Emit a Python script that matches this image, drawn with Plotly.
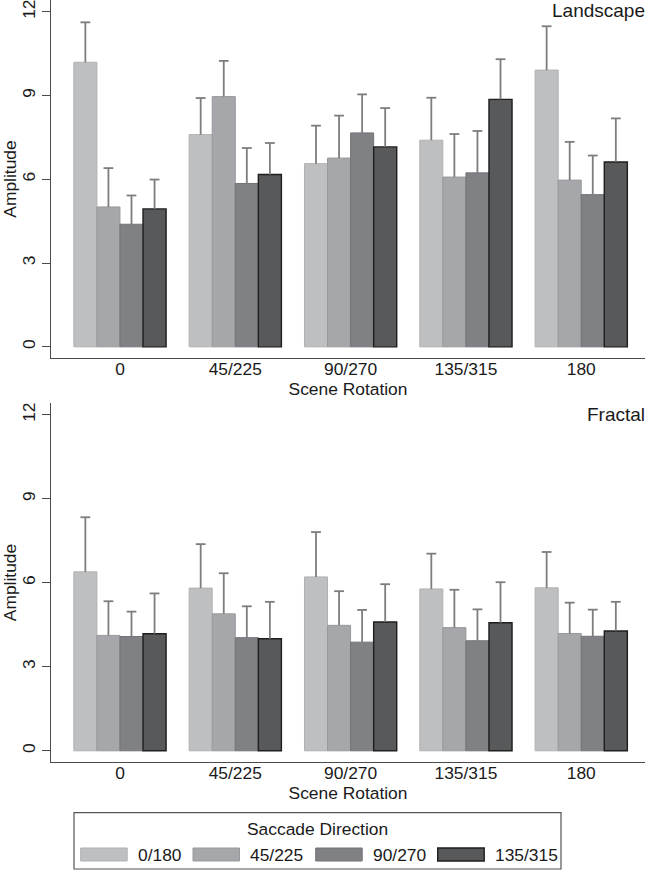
import plotly.graph_objects as go

# ---------------- data ----------------
rotations = ["0", "45/225", "90/270", "135/315", "180"]
directions = ["0/180", "45/225", "90/270", "135/315"]

# Landscape: means and upper error-bar lengths
land_mean = {
    "0/180":   [10.19, 7.60, 6.56, 7.40, 9.91],
    "45/225":  [5.01, 8.96, 6.76, 6.08, 5.97],
    "90/270":  [4.39, 5.85, 7.66, 6.23, 5.45],
    "135/315": [4.94, 6.17, 7.16, 8.86, 6.62],
}
land_err = {
    "0/180":   [1.43, 1.31, 1.36, 1.52, 1.57],
    "45/225":  [1.39, 1.28, 1.52, 1.54, 1.37],
    "90/270":  [1.03, 1.27, 1.38, 1.50, 1.40],
    "135/315": [1.05, 1.13, 1.39, 1.44, 1.56],
}

# Fractal
frac_mean = {
    "0/180":   [6.39, 5.81, 6.21, 5.78, 5.82],
    "45/225":  [4.12, 4.89, 4.48, 4.40, 4.19],
    "90/270":  [4.08, 4.04, 3.88, 3.93, 4.09],
    "135/315": [4.18, 4.00, 4.60, 4.57, 4.28],
}
frac_err = {
    "0/180":   [1.95, 1.57, 1.60, 1.26, 1.28],
    "45/225":  [1.22, 1.45, 1.22, 1.35, 1.10],
    "90/270":  [0.89, 1.12, 1.15, 1.12, 0.95],
    "135/315": [1.44, 1.32, 1.35, 1.45, 1.04],
}

y_ticks = [0, 3, 6, 9, 12]

# ---------------- style ----------------
fills = ["#bebfc1", "#a6a7aa", "#808185", "#58595b"]
edges = ["#b0b1b3", "#98999c", "#727377", "#1e1e1e"]
edge_w = [1, 1, 1, 1.4]
ERR_C = "#7d7d7d"
FONT = "Liberation Sans, Arial, sans-serif"
FS = 17.4
FS_T = 19
TXT = "#1a1a1a"
AX = "#4a4a4a"

BAR_W = 0.2  # fraction of a category slot per bar (4 bars -> 0.8 group, 0.2 gap)

W, H = 650, 877
fig = go.Figure()

panels = [
    (land_mean, land_err, "x", "y"),
    (frac_mean, frac_err, "x2", "y2"),
]
n_dir = len(directions)
for means, errs, xa, ya in panels:
    for i, d in enumerate(directions):
        off = (i - (n_dir - 1) / 2) * BAR_W
        xs = [k + off for k in range(len(rotations))]
        fig.add_trace(go.Bar(
            x=xs, y=means[d], name=d, width=BAR_W,
            marker=dict(color=fills[i], line=dict(color=edges[i], width=edge_w[i])),
            error_y=dict(type="data", array=errs[d], arrayminus=[0] * len(rotations),
                         symmetric=False, color=ERR_C, thickness=1.8, width=0),
            xaxis=xa, yaxis=ya, showlegend=False,
        ))
        # caps only at the upper end of each error bar
        tops = [m + e for m, e in zip(means[d], errs[d])]
        fig.add_trace(go.Scatter(
            x=xs, y=tops, mode="markers", showlegend=False, hoverinfo="skip",
            marker=dict(symbol="line-ew", size=7, line=dict(color=ERR_C, width=1.8)),
            xaxis=xa, yaxis=ya,
        ))

def py(p):
    return 1 - p / H

xdom = [51 / W, 645 / W]
top_dom = [py(358), py(0)]
bot_dom = [py(762), py(403)]

xcommon = dict(
    domain=xdom, range=[-0.598, 4.553], showline=True, linecolor=AX, linewidth=1.2,
    tickvals=list(range(len(rotations))), ticktext=rotations,
    ticks="", showgrid=False, zeroline=False, ticklabelstandoff=-5,
    tickfont=dict(family=FONT, size=FS, color=TXT),
    title=dict(text="Scene Rotation", font=dict(family=FONT, size=FS, color=TXT), standoff=0),
    automargin=False, ticklabeloverflow="allow",
)
ycommon = dict(
    range=[-0.4, 12.42], tickvals=y_ticks, ticks="outside", ticklen=8, tickcolor=AX,
    tickwidth=1.2, showline=True, linecolor=AX, linewidth=1.2, showgrid=False,
    zeroline=False, tickangle=-90, ticklabeloverflow="allow",
    tickfont=dict(family=FONT, size=FS, color=TXT),
    title=dict(text="Amplitude", font=dict(family=FONT, size=FS, color=TXT), standoff=3),
    automargin=False,
)

fig.update_layout(
    width=W, height=H,
    margin=dict(l=0, r=0, t=0, b=0),
    paper_bgcolor="white", plot_bgcolor="white",
    barmode="overlay",
    xaxis=dict(**xcommon, anchor="y"),
    yaxis=dict(**ycommon, domain=top_dom, anchor="x"),
    xaxis2=dict(**xcommon, anchor="y2"),
    yaxis2=dict(**ycommon, domain=bot_dom, anchor="x2"),
    font=dict(family=FONT, color=TXT),
)

# panel titles
fig.add_annotation(text="Landscape", xref="paper", yref="paper", x=647 / W, y=py(11),
                   xanchor="right", yanchor="middle", showarrow=False,
                   font=dict(family=FONT, size=FS_T, color=TXT))
fig.add_annotation(text="Fractal", xref="paper", yref="paper", x=647 / W, y=py(414),
                   xanchor="right", yanchor="middle", showarrow=False,
                   font=dict(family=FONT, size=FS_T, color=TXT))

# custom legend (Stata-style box with wide swatches)
fig.add_shape(type="rect", xref="paper", yref="paper",
              x0=74 / W, x1=561 / W, y0=py(869), y1=py(812.7),
              line=dict(color="#555555", width=1.2), fillcolor="white")
fig.add_annotation(text="Saccade Direction", xref="paper", yref="paper", x=317 / W,
                   y=py(829), xanchor="center", yanchor="middle", showarrow=False,
                   font=dict(family=FONT, size=FS, color=TXT))
sw_x = [80.7, 193, 315.7, 437.7]
for i, d in enumerate(directions):
    fig.add_shape(type="rect", xref="paper", yref="paper",
                  x0=sw_x[i] / W, x1=(sw_x[i] + 46.5) / W,
                  y0=py(861), y1=py(848),
                  line=dict(color=edges[i], width=edge_w[i]), fillcolor=fills[i])
    fig.add_annotation(text=d, xref="paper", yref="paper", x=(sw_x[i] + 55) / W,
                       y=py(854.5), xanchor="left", yanchor="middle", showarrow=False,
                       font=dict(family=FONT, size=FS, color=TXT))

fig.write_html(
    "out.html",
    config={"displayModeBar": False},
    post_script="document.body.style.margin='0';document.body.style.overflow='hidden';",
)
